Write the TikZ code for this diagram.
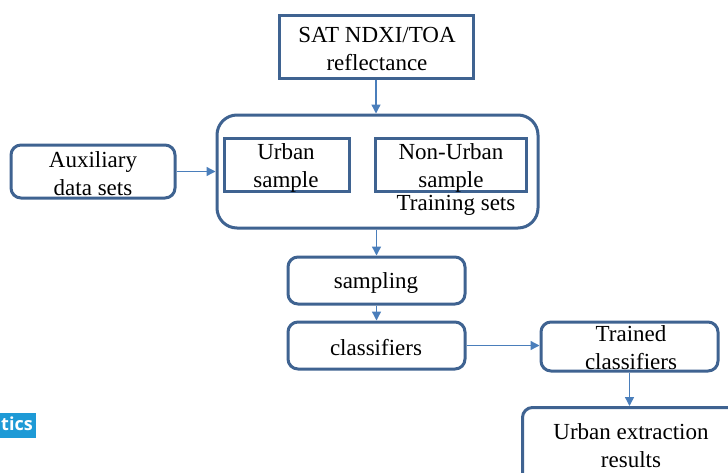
\documentclass[tikz,border=0pt]{standalone}
\usepackage{fontspec}
\setmainfont{Liberation Serif}
\newfontfamily\timesfont{Liberation Serif}
\newfontfamily\badgefont{Open Sans}
\usetikzlibrary{arrows.meta}
\definecolor{boxblue}{HTML}{3F6391}
\definecolor{arrowblue}{HTML}{4A7EBB}
\definecolor{badgeblue}{HTML}{1E9AD6}
\tikzset{
  sqbox/.style={draw=boxblue, line width=3pt, inner sep=0pt},
  rdbox/.style={draw=boxblue, line width=3pt, inner sep=0pt, rounded corners=10pt},
  bigbox/.style={draw=boxblue, line width=3pt, inner sep=0pt, rounded corners=20pt},
  lbl/.style={font=\timesfont\fontsize{23}{28}\selectfont, align=center, inner sep=0pt, text=black},
  conn/.style={draw=arrowblue, line width=1.4pt, -{Triangle[length=9pt,width=9pt]}},
}
\begin{document}
\begin{tikzpicture}[x=1pt,y=-1pt]
\useasboundingbox (0,0) rectangle (728,472);
\fill[white] (0,0) rectangle (728,472);
% badge
\node[fill=badgeblue, minimum width=37pt, minimum height=25pt, inner sep=0pt, anchor=west] (badge) at (-1,425) {};
\node[font=\badgefont\bfseries\fontsize{18}{20}\selectfont, text=white, anchor=west, inner sep=0pt] (badgetxt) at (1,424) {tics};
% boxes
\node[sqbox, minimum width=194pt, minimum height=63pt] (sat) at (376,46.5) {};
\node[lbl] (sattxt) at (377,49) {SAT NDXI/TOA\\reflectance};
\node[bigbox, minimum width=321pt, minimum height=113pt] (train) at (377.5,171.5) {};
\node[sqbox, minimum width=125pt, minimum height=53pt] (urb) at (286.5,164.5) {};
\node[lbl] (urbtxt) at (286,168) {Urban\\sample};
\node[sqbox, minimum width=151pt, minimum height=53pt] (nurb) at (450.5,164.5) {};
\node[lbl] (nurbtxt) at (451,168) {Non-Urban\\sample};
\node[lbl] (trtxt) at (456,205) {Training sets};
\node[rdbox, minimum width=164pt, minimum height=53pt] (aux) at (93,171.5) {};
\node[lbl] (auxtxt) at (93,174) {Auxiliary\\data sets};
\node[rdbox, minimum width=177pt, minimum height=47pt] (samp) at (376.5,280.5) {};
\node[lbl] (samptxt) at (376,283) {sampling};
\node[rdbox, minimum width=177pt, minimum height=47pt] (cls) at (376.5,345.5) {};
\node[lbl] (clstxt) at (376,348) {classifiers};
\node[rdbox, minimum width=177pt, minimum height=49pt] (tcls) at (629.5,346.5) {};
\node[lbl] (tclstxt) at (631,348) {Trained\\classifiers};
\node[rdbox, minimum width=240pt, minimum height=100pt, anchor=north west] (res) at (521,406) {};
\node[lbl] (restxt) at (631,446) {Urban extraction\\results};
% connectors
\draw[conn] (sat.south) -- (sat.south |- train.north);
\draw[conn] (aux.east) -- (train.west |- aux.east);
\draw[conn] (train.south -| samp.north) -- (samp.north);
\draw[conn] (samp.south) -- (cls.north);
\draw[conn] (cls.east) -- (tcls.west |- cls.east);
\draw[conn] (tcls.south) -- (tcls.south |- res.north);
\end{tikzpicture}
\end{document}
